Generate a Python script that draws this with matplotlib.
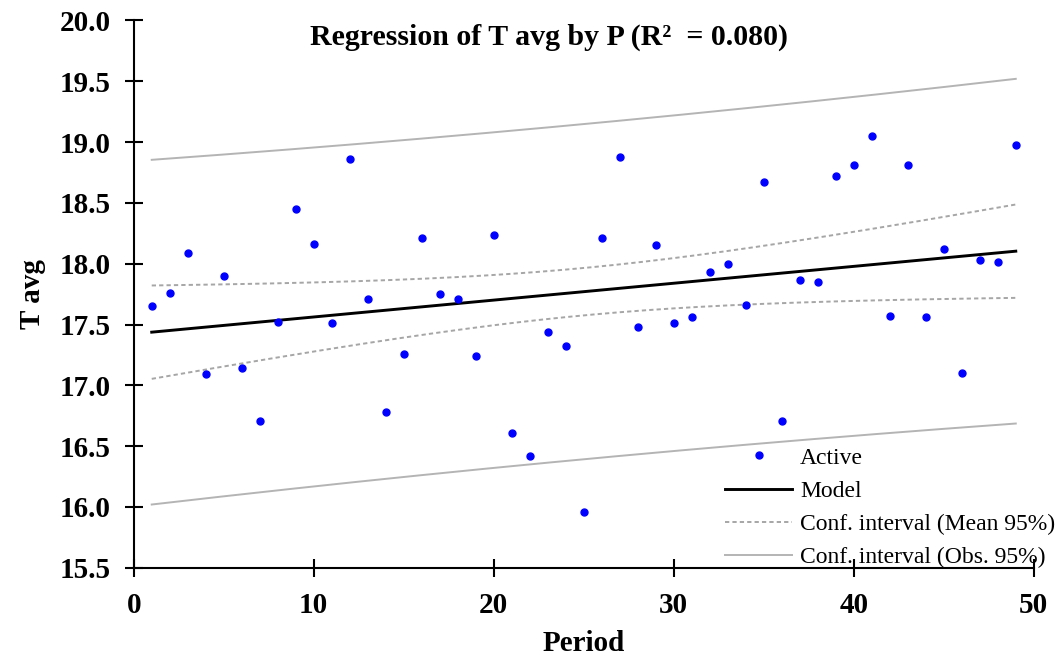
import numpy as np
import matplotlib
matplotlib.use("Agg")
import matplotlib.pyplot as plt

# ---- data ----
period = list(range(1, 50))
t_avg = [17.65, 17.76, 18.09, 17.09, 17.90, 17.14, 16.71, 17.52, 18.45, 18.16,
         17.51, 18.86, 17.71, 16.78, 17.26, 18.21, 17.75, 17.71, 17.24, 18.24,
         16.61, 16.42, 17.44, 17.32, 15.96, 18.21, 18.88, 17.48, 18.15, 17.51,
         17.56, 17.93, 18.00, 17.66, 18.67, 16.71, 17.87, 17.85, 18.72, 18.81,
         19.05, 17.57, 18.81, 17.56, 18.12, 17.10, 18.03, 18.01, 18.98]
xticks = [0, 10, 20, 30, 40, 50]
yticks = [15.5, 16.0, 16.5, 17.0, 17.5, 18.0, 18.5, 19.0, 19.5, 20.0]
t_crit = 2.0117  # Student t, 0.975, df = 47

x = np.array(period, dtype=float)
y = np.array(t_avg)
n = len(x)
b1, b0 = np.polyfit(x, y, 1)
resid = y - (b0 + b1 * x)
s = np.sqrt(np.sum(resid**2) / (n - 2))
sxx = np.sum((x - x.mean())**2)
xg = np.linspace(x.min(), x.max(), 200)
yg = b0 + b1 * xg
se_mean = s * np.sqrt(1 / n + (xg - x.mean())**2 / sxx)
se_obs = s * np.sqrt(1 + 1 / n + (xg - x.mean())**2 / sxx)

plt.rcParams['font.family'] = ['Liberation Serif', 'DejaVu Serif']

fig = plt.figure(figsize=(10.63, 6.57), dpi=100)
ax = fig.add_axes([0.1258, 0.1359, 0.8467, 0.8329])

ax.plot(x, y, 'o', color='#0000FF', markersize=5, label='Active', zorder=5)
ax.plot(xg, yg, color='black', lw=2.1, label='Model', zorder=4)
ax.plot(xg, yg - t_crit * se_mean, color='#a6a6a6', lw=1.4, ls=(0, (2.2, 1.6)),
        label='Conf. interval (Mean 95%)')
ax.plot(xg, yg + t_crit * se_mean, color='#a6a6a6', lw=1.4, ls=(0, (2.2, 1.6)))
ax.plot(xg, yg - t_crit * se_obs, color='#b4b4b4', lw=1.4,
        label='Conf. interval (Obs. 95%)')
ax.plot(xg, yg + t_crit * se_obs, color='#b4b4b4', lw=1.4)

ax.set_xlim(0, 50)
ax.set_ylim(15.5, 20.0)
ax.set_xticks(xticks)
ax.set_yticks(yticks)
ax.set_yticklabels([f"{v:.1f}" for v in yticks])
for sp in ['top', 'right']:
    ax.spines[sp].set_visible(False)
for sp in ['left', 'bottom']:
    ax.spines[sp].set_linewidth(1.5)
ax.tick_params(axis='both', direction='inout', length=13, width=1.5,
               labelsize=21)
ax.tick_params(axis='y', pad=10)
ax.tick_params(axis='x', pad=11)
for lab in ax.get_xticklabels() + ax.get_yticklabels():
    lab.set_fontweight('bold')

ax.set_xlabel('Period', fontsize=21, fontweight='bold', labelpad=8)
ax.set_ylabel('T avg', fontsize=21, fontweight='bold', labelpad=10)

fig.text(0.516, 0.943, 'Regression of T avg by P (R²  = 0.080)',
         ha='center', va='center', fontsize=21.5, fontweight='bold')

leg = ax.legend(loc='upper left', bbox_to_anchor=(725 / 1063, 1 - 447 / 657),
                bbox_transform=fig.transFigure, frameon=False,
                fontsize=17, handlelength=2.84, handletextpad=0.34,
                labelspacing=0.5, borderaxespad=0.0, borderpad=0.0)

fig.savefig('out.png', dpi=100)
